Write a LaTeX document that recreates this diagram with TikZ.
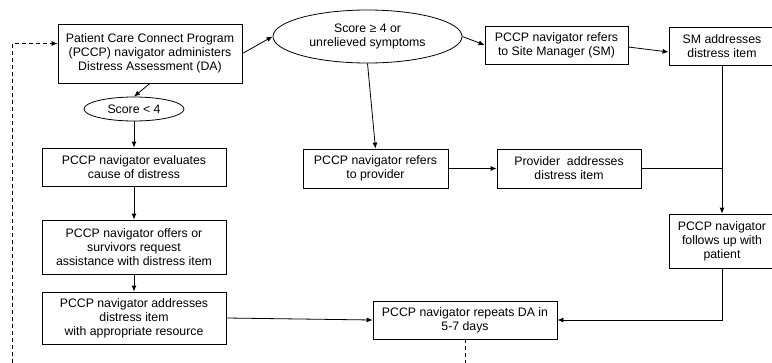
\documentclass[tikz,border=0pt]{standalone}
\usepackage{fontspec}
\setmainfont{Liberation Sans}
\usetikzlibrary{shapes.geometric,arrows.meta}

\begin{document}
\begin{tikzpicture}[x=1pt,y=-1pt,
    font=\fontsize{12.3}{14}\selectfont,
    pbox/.style={draw,line width=0.8pt,align=center,inner sep=1pt},
    oval/.style={draw,ellipse,line width=0.8pt,align=center,inner sep=0pt},
    flow/.style={-{Latex[length=6pt,width=5pt]},line width=0.8pt},
    plain/.style={line width=0.8pt}]

    % Marco de la figura (recorta lo que sale del borde)
    \clip (0,0) rectangle (772,362);

    % 1. Columna izquierda
    \node[pbox,minimum width=184,minimum height=59] (da) at (150,53.5)
        {Patient Care Connect Program\\(PCCP) navigator administers\\Distress Assessment (DA)};
    \node[oval,minimum width=100,minimum height=24] (lo) at (134,109) {Score < 4};
    \node[pbox,minimum width=184,minimum height=38] (eval) at (134,167)
        {PCCP navigator evaluates\\cause of distress};
    \node[pbox,minimum width=184,minimum height=54] (offer) at (134,247)
        {PCCP navigator offers or\\survivors request\\assistance with distress item};
    \node[pbox,minimum width=184,minimum height=52] (addr) at (134,318)
        {PCCP navigator addresses\\distress item\\with appropriate resource};

    % 2. Rama central y derecha
    \node[oval,minimum width=189,minimum height=53] (hi) at (367.5,36.5)
        {Score ≥ 4 or\\unrelieved symptoms};
    \node[pbox,minimum width=143,minimum height=38] (smref) at (556.5,45)
        {PCCP navigator refers\\to Site Manager (SM)};
    \node[pbox,minimum width=106,minimum height=38] (smadd) at (722,46)
        {SM addresses\\distress item};
    \node[pbox,minimum width=145,minimum height=39] (provref) at (375.5,168.5)
        {PCCP navigator refers\\to provider};
    \node[pbox,minimum width=144,minimum height=39] (provadd) at (569,168.5)
        {Provider\ \ addresses\\distress item};
    \node[pbox,minimum width=106,minimum height=54] (fol) at (722,241)
        {PCCP navigator\\follows up with\\patient};
    \node[pbox,minimum width=184,minimum height=38] (rep) at (465,320)
        {PCCP navigator repeats DA in\\5-7 days};

    % 3. Conectores
    \draw[flow] (da.east) -- (hi.west);
    \draw[flow] (da.south) -- (lo.north);
    \draw[flow] (lo.south) -- (eval.north);
    \draw[flow] (eval.south) -- (offer.north);
    \draw[flow] (offer.south) -- (addr.north);
    \draw[flow] (addr.east) -- (rep.west);
    \draw[flow] (hi.east) -- (smref.west);
    \draw[flow] ([yshift=-2pt]smref.east) -- ([yshift=-6pt]smadd.west);
    \draw[flow] (hi.south) -- (provref.north);
    \draw[flow] (provref.east) -- (provadd.west);
    \draw[flow] (smadd.south) -- (fol.north);
    \draw[plain] (provadd.east) -- (provadd.east -| smadd.south);
    \draw[flow] (fol.south) |- (rep.east);

    % Retorno punteado
    \coordinate (loop) at (12,380);
    \draw[flow,dash pattern=on 4pt off 3pt] (rep.south) |- (loop) |- ([yshift=10pt]da.west);

\end{tikzpicture}
\end{document}
